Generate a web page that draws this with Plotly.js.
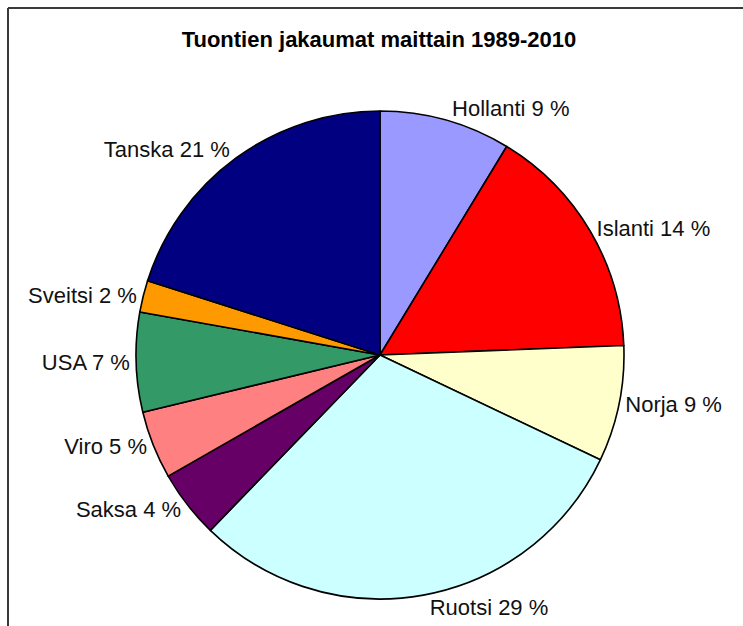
<!DOCTYPE html>
<html>
<head>
<meta charset="utf-8">
<script src="https://cdn.plot.ly/plotly-3.0.1.min.js"></script>
<style>
  html, body { margin: 0; padding: 0; background: #fff; }
  #chart { width: 743px; height: 626px; }
</style>
</head>
<body>
<div id="chart"></div>
<script>
// Countries, clockwise from 12 o'clock
const countries = ['Hollanti', 'Islanti', 'Norja', 'Ruotsi', 'Saksa', 'Viro', 'USA', 'Sveitsi', 'Tanska'];
const shares = [8.7, 15.7, 7.7, 30.2, 4.5, 4.5, 6.6, 2.1, 20.1];
// Percentages as printed on the labels
const labelPct = [9, 14, 9, 29, 4, 5, 7, 2, 21];
const colors = ['#9999FF', '#FF0000', '#FFFFCC', '#CCFFFF', '#660066', '#FF8080', '#339966', '#FF9900', '#000080'];

const W = 743, H = 626;

const trace = {
    type: 'pie',
    labels: countries,
    values: shares,
    customdata: labelPct,
    sort: false,
    direction: 'clockwise',
    rotation: 0,
    marker: { colors: colors, line: { color: '#000', width: 1.6 } },
    textposition: 'outside',
    texttemplate: '%{label} %{customdata} %',
    hoverinfo: 'none',
    outsidetextfont: { family: '"Liberation Sans", Arial, sans-serif', size: 22, color: '#111' },
    domain: { x: [136 / W, 624 / W], y: [1 - 599 / H, 1 - 111 / H] },
};

const layout = {
    width: W, height: H,
    margin: { t: 0, r: 0, b: 0, l: 0 },
    paper_bgcolor: '#fff',
    showlegend: false,
    title: {
        text: 'Tuontien jakaumat maittain 1989-2010',
        font: { family: '"Liberation Sans", Arial, sans-serif', size: 22, color: '#000', weight: 'bold' },
        x: 0.51, xanchor: 'center',
        y: 1 - 39 / H, yanchor: 'middle',
    },
    shapes: [
        { type: 'line', xref: 'paper', yref: 'paper', x0: 8 / W, x1: 1, y0: 1 - 8 / H, y1: 1 - 8 / H, line: { color: '#3a3a3a', width: 2 } },
        { type: 'line', xref: 'paper', yref: 'paper', x0: 8 / W, x1: 8 / W, y0: 1 - 8 / H, y1: 0, line: { color: '#3a3a3a', width: 2 } },
    ],
};

Plotly.newPlot('chart', [trace], layout, { staticPlot: true, displayModeBar: false });
</script>
</body>
</html>
